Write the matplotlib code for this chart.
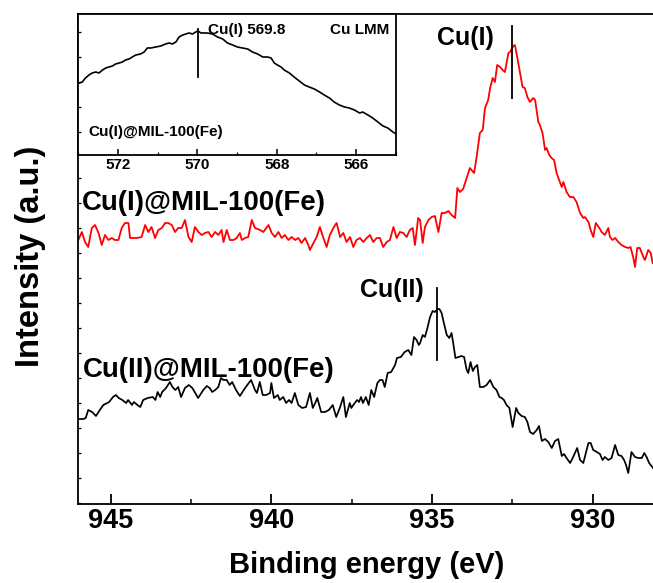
import matplotlib
matplotlib.use("Agg")
import matplotlib.pyplot as plt
from matplotlib.ticker import MultipleLocator, FixedLocator, NullFormatter

plt.rcParams['font.family'] = ['Liberation Sans', 'DejaVu Sans']
plt.rcParams['font.weight'] = 'bold'

# ---------------- data ----------------
# Cu(I)@MIL-100(Fe) Cu 2p spectrum (red)
red_be = [946.01, 945.90, 945.80, 945.70, 945.59, 945.49, 945.38, 945.28, 945.18, 945.07,
          944.97, 944.87, 944.76, 944.66, 944.56, 944.45, 944.40, 944.19, 944.04, 943.93,
          943.83, 943.73, 943.62, 943.52, 943.41, 943.31, 943.21, 943.10, 943.00, 942.90,
          942.79, 942.69, 942.58, 942.48, 942.38, 942.27, 942.17, 942.07, 941.96, 941.86,
          941.75, 941.65, 941.55, 941.49, 941.39, 941.29, 941.18, 941.08, 940.98, 940.92,
          940.82, 940.72, 940.61, 940.51, 940.35, 940.25, 940.09, 939.99, 939.89, 939.78,
          939.68, 939.58, 939.47, 939.37, 939.26, 939.16, 939.06, 938.95, 938.85, 938.80,
          938.69, 938.59, 938.49, 938.38, 938.28, 938.18, 938.07, 937.97, 937.86, 937.76,
          937.66, 937.55, 937.45, 937.35, 937.24, 937.14, 937.03, 936.93, 936.83, 936.72,
          936.62, 936.52, 936.41, 936.31, 936.20, 936.10, 936.00,
          935.89, 935.79, 935.69, 935.60, 935.53, 935.43, 935.37, 935.29, 935.22, 935.11,
          935.01, 934.91, 934.80, 934.70, 934.60, 934.49, 934.39, 934.28, 934.21, 934.13,
          934.03, 933.92, 933.82, 933.77, 933.69, 933.61, 933.51, 933.42, 933.35, 933.25,
          933.19, 933.11, 933.04, 932.97, 932.88, 932.80, 932.73, 932.62, 932.57, 932.49,
          932.42, 932.37, 932.26, 932.18, 932.11, 932.03, 931.95, 931.85, 931.79, 931.69,
          931.64, 931.56, 931.48, 931.43, 931.35, 931.28, 931.20, 931.12, 931.02, 930.96,
          930.91, 930.81, 930.71, 930.60, 930.50, 930.39, 930.29, 930.24, 930.13, 930.06,
          929.98, 929.90, 929.79, 929.72, 929.62, 929.51, 929.46, 929.38, 929.30, 929.20,
          929.10, 928.99, 928.89, 928.82, 928.73, 928.68, 928.61, 928.53, 928.42, 928.37,
          928.27, 928.19, 928.13]
red_int = [263, 271, 261, 256, 275, 278, 270, 258, 268, 263,
           265, 263, 263, 275, 280, 280, 265, 265, 266, 278,
           271, 276, 265, 273, 275, 280, 280, 278, 271, 275,
           275, 283, 266, 261, 276, 271, 268, 270, 271, 266,
           271, 268, 273, 261, 273, 263, 263, 265, 270, 263,
           265, 266, 283, 275, 273, 271, 278, 270, 266, 271,
           265, 268, 263, 266, 263, 265, 260, 265, 258, 253,
           260, 266, 276, 265, 256, 268, 275, 280, 266, 270,
           261, 266, 256, 263, 265, 261, 265, 268, 261, 265,
           265, 256, 261, 263, 276, 265, 271,
           270, 266, 273, 275, 258, 285, 283, 260, 276, 283,
           286, 287, 271, 290, 290, 292, 288, 285, 315, 311,
           314, 325, 335, 333, 330, 346, 370, 373, 395, 403,
           415, 425, 421, 438, 436, 433, 431, 450, 451, 456,
           458, 450, 430, 416, 415, 406, 401, 405, 403, 381,
           378, 370, 353, 355, 348, 345, 343, 330, 321, 316,
           321, 311, 306, 306, 301, 290, 285, 286, 281, 273,
           266, 280, 275, 271, 268, 275, 266, 263, 265, 261,
           258, 256, 255, 256, 245, 236, 255, 255, 246, 243,
           253, 250, 240]

# Cu(II)@MIL-100(Fe) Cu 2p spectrum (black)
blk_be = [945.99, 945.85, 945.78, 945.70, 945.58, 945.46, 945.34, 945.23, 945.11, 945.05,
          944.93, 944.84, 944.75, 944.64, 944.52, 944.46, 944.34, 944.28, 944.17, 944.08,
          943.99, 943.85, 943.69, 943.61, 943.54, 943.46, 943.40, 943.28, 943.16, 943.08,
          942.99, 942.90, 942.81, 942.69, 942.57, 942.46, 942.28, 942.12, 942.01, 941.92,
          941.84, 941.75, 941.65, 941.57, 941.49, 941.39, 941.30, 941.22, 941.10, 940.98,
          940.86, 940.75, 940.63, 940.51, 940.45, 940.36, 940.27, 940.16, 940.04, 940.00,
          939.92, 939.80, 939.74, 939.63, 939.54, 939.45, 939.37, 939.27, 939.16, 939.04,
          938.92, 938.80, 938.71, 938.62, 938.57, 938.45, 938.33, 938.21, 938.09, 937.98,
          937.86, 937.76, 937.68, 937.56, 937.51, 937.45, 937.33, 937.27, 937.21, 937.15,
          937.06, 936.97, 936.89, 936.80, 936.70, 936.62, 936.54, 936.47, 936.38, 936.27,
          936.15, 936.09, 935.97, 935.85, 935.74, 935.64, 935.56, 935.48, 935.41,
          935.37, 935.29, 935.22, 935.15, 935.06, 934.98, 934.91, 934.83, 934.77, 934.70,
          934.63, 934.54, 934.46, 934.39, 934.34, 934.27, 934.18, 934.08, 934.00, 933.92,
          933.87, 933.80, 933.73, 933.66, 933.59, 933.51, 933.40, 933.30, 933.19, 933.09,
          932.99, 932.90, 932.83, 932.76, 932.68, 932.59, 932.49, 932.38, 932.31, 932.21,
          932.11, 932.03, 931.95, 931.85, 931.74, 931.67, 931.58, 931.48, 931.38, 931.27,
          931.17, 931.07, 930.96, 930.89, 930.81, 930.70, 930.62, 930.55, 930.48, 930.39,
          930.29, 930.21, 930.13, 930.06, 929.98, 929.87, 929.77, 929.69, 929.62, 929.51,
          929.41, 929.30, 929.20, 929.10, 929.02, 928.96, 928.89, 928.79, 928.68, 928.58,
          928.47, 928.39, 928.32, 928.24, 928.12]
blk_int = [84, 84, 85, 93, 91, 87, 93, 98, 100, 101,
           106, 108, 105, 103, 100, 103, 98, 101, 98, 96,
           103, 105, 106, 103, 111, 106, 111, 115, 121, 116,
           113, 116, 106, 115, 118, 115, 105, 113, 117, 115,
           111, 113, 116, 125, 123, 123, 118, 121, 113, 107,
           113, 118, 123, 113, 110, 121, 108, 108, 110, 120,
           105, 108, 103, 106, 100, 103, 100, 110, 98, 95,
           96, 110, 95, 101, 105, 91, 91, 93, 98, 86,
           96, 106, 86, 100, 95, 98, 103, 101, 106, 100,
           106, 98, 113, 106, 120, 123, 123, 116, 130, 131,
           138, 145, 146, 151, 153, 148, 166, 163, 158,
           160, 168, 166, 174, 186, 192, 191, 194, 194, 190,
           180, 168, 165, 170, 160, 145, 146, 147, 146, 133,
           130, 141, 132, 136, 138, 116, 116, 118, 123, 116,
           113, 106, 105, 103, 98, 95, 76, 95, 90, 87,
           86, 81, 71, 69, 73, 77, 62, 64, 61, 55,
           62, 64, 47, 49, 45, 40, 45, 50, 55, 43,
           40, 50, 60, 60, 53, 51, 49, 43, 46, 43,
           45, 58, 48, 47, 43, 38, 30, 51, 46, 45,
           45, 50, 46, 40, 35]

# Inset: Cu LMM Auger region of Cu(I)@MIL-100(Fe)
lmm_ke = [572.97, 572.90, 572.82, 572.73, 572.65, 572.56, 572.48, 572.39, 572.31, 572.23,
          572.14, 572.06, 571.97, 571.89, 571.81, 571.72, 571.64, 571.55, 571.43, 571.34,
          571.26, 571.17, 571.05, 570.92, 570.80, 570.71, 570.63, 570.54, 570.46, 570.37,
          570.29, 570.21, 570.12, 570.04, 569.98, 569.91, 569.83, 569.74, 569.62, 569.49,
          569.36, 569.24, 569.11, 568.99, 568.86, 568.73, 568.61, 568.48, 568.35, 568.23,
          568.14, 568.06, 567.98, 567.89, 567.81, 567.68, 567.56, 567.43, 567.30, 567.18,
          567.05, 566.92, 566.80, 566.67, 566.55, 566.42, 566.29, 566.17, 566.04, 565.91,
          565.83, 565.70, 565.58, 565.45, 565.32, 565.20, 565.07, 564.99]
lmm_int = [72, 73, 77, 80, 82, 83, 82, 85, 87, 88,
           89, 91, 92, 93, 95, 96, 98, 100, 101, 103,
           107, 107, 108, 109, 111, 112, 111, 113, 118, 120,
           121, 122, 121, 123, 124, 122, 122, 122, 121, 118,
           116, 112, 110, 108, 107, 106, 103, 101, 98, 98,
           97, 92, 90, 88, 85, 82, 78, 74, 70, 68,
           66, 63, 60, 57, 53, 50, 48, 47, 45, 42,
           43, 40, 37, 33, 29, 27, 23, 21]

peak_cu1 = 932.51
peak_cu2 = 934.85
peak_lmm = 569.99

main_xticks = [945, 940, 935, 930]
inset_xticks = [572, 570, 568, 566]

# ---------------- figure ----------------
W, H = 653, 583
fig = plt.figure(figsize=(W / 100, H / 100), dpi=100)

def fx(px):
    return px / W

def fy(py):
    return 1 - py / H

ax = fig.add_axes([fx(78.3), fy(504), fx(653) - fx(78.3), fy(14) - fy(504)])
ax.plot(red_be, red_int, color='#ff0000', lw=1.3)
ax.plot(blk_be, blk_int, color='black', lw=1.25)
ax.set_xlim(946.01, 928.12)
ax.set_ylim(-1, 489)
ax.spines['right'].set_visible(False)
for s in ['left', 'bottom', 'top']:
    ax.spines[s].set_linewidth(1.3)

ax.xaxis.set_major_locator(FixedLocator(main_xticks))
ax.xaxis.set_minor_locator(MultipleLocator(2.5))
ax.tick_params(axis='x', which='major', direction='in', length=7, width=1.3,
               labelsize=19.5, pad=3, top=False)
ax.tick_params(axis='x', which='minor', direction='in', length=3.5, width=1.1, top=False)
ax.set_xticklabels([str(t) for t in main_xticks], fontweight='bold')
ax.yaxis.set_major_locator(MultipleLocator(25))
ax.yaxis.set_major_formatter(NullFormatter())
ax.tick_params(axis='y', which='major', direction='in', length=2.5, width=0.9, right=False)

# peak markers
ax.plot([peak_cu1, peak_cu1], [405, 477], color='black', lw=1.3)
ax.plot([peak_cu2, peak_cu2], [143, 215], color='black', lw=1.3)
ax.text(933.07, 458, 'Cu(I)', ha='right', va='baseline', fontsize=18, fontweight='bold')
ax.text(935.25, 206, 'Cu(II)', ha='right', va='baseline', fontsize=18, fontweight='bold')
ax.text(945.90, 293, 'Cu(I)@MIL-100(Fe)', ha='left', va='baseline', fontsize=19.9, fontweight='bold')
ax.text(945.86, 126, 'Cu(II)@MIL-100(Fe)', ha='left', va='baseline', fontsize=19.9, fontweight='bold')

fig.text(fx(366.7), fy(573.3), 'Binding energy (eV)', ha='center', va='baseline',
         fontsize=21, fontweight='bold')
fig.text(fx(31), fy(256), 'Intensity (a.u.)', ha='center', va='center', rotation=90,
         fontsize=23.5, fontweight='bold')

# ---------------- inset ----------------
ins = fig.add_axes([fx(78.3), fy(155), fx(395.7) - fx(78.3), fy(14) - fy(155)])
ins.plot(lmm_ke, lmm_int, color='black', lw=1.2)
ins.plot([peak_lmm, peak_lmm], [78, 126], color='black', lw=1.3)
ins.set_xlim(573, 565)
ins.set_ylim(0, 141)
for s in ins.spines.values():
    s.set_linewidth(1.3)
ins.xaxis.set_major_locator(FixedLocator(inset_xticks))
ins.xaxis.set_minor_locator(MultipleLocator(1))
ins.tick_params(axis='x', which='major', direction='in', length=4, width=1.1,
                labelsize=11, pad=2.5, top=False)
ins.tick_params(axis='x', which='minor', direction='in', length=2.2, width=0.9, top=False)
ins.set_xticklabels([str(t) for t in inset_xticks], fontweight='bold')
ins.yaxis.set_major_locator(FixedLocator([23, 48, 73, 98, 123]))
ins.yaxis.set_major_formatter(NullFormatter())
ins.tick_params(axis='y', which='major', direction='in', length=2.2, width=0.9, right=False)
ins.text(569.74, 125, 'Cu(I) 569.8', ha='left', va='center', fontsize=11, fontweight='bold')
ins.text(565.15, 125, 'Cu LMM', ha='right', va='center', fontsize=11, fontweight='bold')
ins.text(572.75, 23, 'Cu(I)@MIL-100(Fe)', ha='left', va='center', fontsize=11, fontweight='bold')

fig.savefig('out.png', dpi=100)
